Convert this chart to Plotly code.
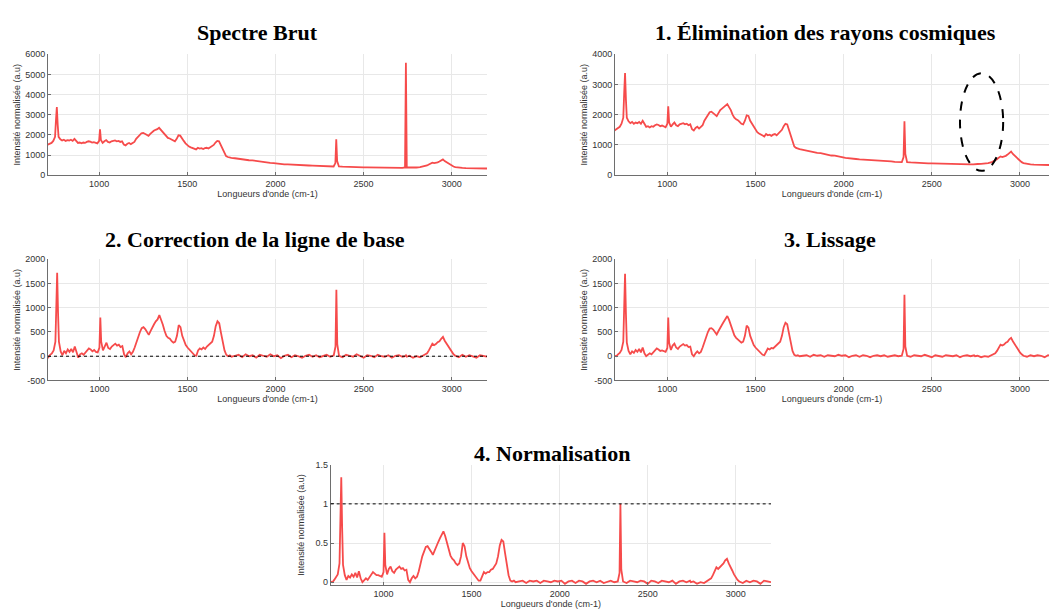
import plotly.graph_objects as go

# nombre d'onde (cm-1), grille commune aux cinq spectres
wavenumber = [
    700, 710, 720, 730, 740, 750, 755, 760, 765, 770, 780, 790, 800, 810, 820, 830, 840, 850,
    860, 870, 880, 890, 900, 910, 920, 930, 940, 950, 960, 970, 980, 990, 1000, 1005, 1010, 1020,
    1030, 1040, 1050, 1060, 1070, 1080, 1090, 1100, 1110, 1120,
    1130, 1140, 1150, 1160, 1170, 1180, 1190, 1200, 1210, 1220,
    1230, 1240, 1250, 1260, 1270, 1280, 1290, 1300, 1310, 1320,
    1330, 1340, 1350, 1360, 1370, 1380, 1390, 1400, 1410, 1420,
    1430, 1440, 1450, 1460, 1470, 1480, 1490, 1500, 1510, 1520,
    1530, 1540, 1550, 1560, 1570, 1580, 1590, 1600, 1610, 1620,
    1630, 1640, 1650, 1660, 1670, 1680, 1690, 1700, 1710, 1720,
    1730, 1740, 1750,
    1770, 1790, 1810, 1830, 1850, 1870, 1890, 1910, 1930, 1950, 1970, 1990, 2010, 2030, 2050,
    2070, 2090, 2110, 2130, 2150, 2170, 2190, 2210, 2230, 2250, 2270, 2290, 2310, 2330,
    2340, 2345, 2350, 2360,
    2380, 2400, 2420, 2440, 2460, 2480, 2500, 2520, 2540, 2560, 2580, 2600, 2620, 2640, 2660,
    2680, 2700, 2720,
    2735, 2740, 2745,
    2760, 2780, 2800, 2820, 2840, 2860,
    2870, 2880, 2890, 2900, 2910, 2920, 2930, 2940, 2950, 2960, 2970, 2980, 2990, 3000, 3010, 3020,
    3040, 3060, 3080, 3100, 3120, 3140, 3160, 3180, 3200,
]

# Spectre brut
raw = [
    1480, 1520, 1560, 1600, 1700, 1900, 2700, 3380, 2500, 1900, 1780, 1720, 1760, 1700, 1740, 1720, 1760, 1700,
    1800, 1680, 1600, 1620, 1580, 1620, 1600, 1650, 1680, 1660, 1620, 1640, 1600, 1580, 1700, 2280, 1750, 1600,
    1680, 1740, 1650, 1620, 1680, 1700, 1720, 1680, 1700, 1650,
    1680, 1520, 1480, 1560, 1600, 1540, 1580, 1650, 1800, 1900,
    2000, 2080, 2100, 2060, 2000, 1950, 2050, 2150, 2200, 2250,
    2280, 2350, 2250, 2150, 2000, 1900, 1850, 1820, 1760, 1700,
    1680, 1800, 1980, 1960, 1800, 1700, 1580, 1480, 1420, 1380,
    1350, 1300, 1280, 1360, 1320, 1340, 1300, 1340, 1360, 1320,
    1380, 1420, 1500, 1620, 1700, 1680, 1500, 1300, 1100, 950,
    900, 870, 860,
    840, 810, 790, 770, 740, 730, 700, 690, 650, 645, 610, 600, 570, 565, 540,
    535, 520, 515, 500, 495, 480, 480, 470, 465, 455, 455, 440, 435, 430,
    600, 1780, 700, 430,
    420, 410, 405, 400, 395, 390, 390, 385, 380, 380, 375, 375, 370, 370, 365,
    370, 365, 360,
    380, 5580, 380,
    370, 375, 380, 400, 430, 480,
    530, 580, 620, 600, 610, 640, 680, 740, 780, 700, 640, 580, 520, 470, 430, 400,
    370, 360, 350, 345, 340, 335, 340, 330, 330,
]

# 1. Élimination des rayons cosmiques
cosmic = [
    1480, 1520, 1560, 1600, 1700, 1900, 2700, 3380, 2500, 1900, 1780, 1720, 1760, 1700, 1740, 1720, 1760, 1700,
    1800, 1680, 1600, 1620, 1580, 1620, 1600, 1650, 1680, 1660, 1620, 1640, 1600, 1580, 1700, 2280, 1750, 1600,
    1680, 1740, 1650, 1620, 1680, 1700, 1720, 1680, 1700, 1650,
    1680, 1520, 1480, 1560, 1600, 1540, 1580, 1650, 1800, 1900,
    2000, 2080, 2100, 2060, 2000, 1950, 2050, 2150, 2200, 2250,
    2280, 2350, 2250, 2150, 2000, 1900, 1850, 1820, 1760, 1700,
    1680, 1800, 1980, 1960, 1800, 1700, 1580, 1480, 1420, 1380,
    1350, 1300, 1280, 1360, 1320, 1340, 1300, 1340, 1360, 1320,
    1380, 1420, 1500, 1620, 1700, 1680, 1500, 1300, 1100, 950,
    900, 870, 860,
    840, 810, 790, 770, 740, 730, 700, 690, 650, 645, 610, 600, 570, 565, 540,
    535, 520, 515, 500, 495, 480, 480, 470, 465, 455, 455, 440, 435, 430,
    600, 1780, 700, 430,
    420, 410, 405, 400, 395, 390, 390, 385, 380, 380, 375, 375, 370, 370, 365,
    370, 365, 360,
    360, 365, 370,
    370, 375, 380, 400, 430, 480,
    530, 580, 620, 600, 610, 640, 680, 740, 780, 700, 640, 580, 520, 470, 430, 400,
    370, 360, 350, 345, 340, 335, 340, 330, 330,
]

# 2. Correction de la ligne de base
baseline = [
    20, -20, 30, 60, 120, 300, 1000, 1720, 900, 300, 100, 20, 110, 60, 140, 90, 150, 80,
    200, 60, -30, 40, 60, 30, 80, 120, 160, 140, 100, 130, 90, 80, 180, 800, 300, 120,
    220, 280, 170, 150, 200, 240, 260, 220, 240, 190,
    210, 40, -20, 60, 100, 40, 90, 180, 300, 420,
    500, 580, 600, 560, 500, 440, 520, 600, 660, 720,
    760, 850, 760, 650, 520, 420, 380, 360, 310, 280,
    300, 420, 640, 600, 420, 300, 230, 180, 140, 110,
    70, 20, 10, 120, 160, 140, 180, 150, 200, 230,
    260, 300, 420, 620, 720, 680, 480, 280, 120, 30,
    0, 20, -10,
    10, 30, -20, 40, 0, 20, -30, 30, 10, -10, 40, 0, 20, -40, 10,
    30, -20, 20, 0, -30, 10, 30, -10, 20, -20, 10, 30, -10, 20,
    200, 1370, 250, 10,
    -20, 30, 10, -10, 40, 0, -30, 20, 10, -20, 30, 0, -10, 20, -30,
    10, 20, -10,
    0, 20, -10,
    10, -30, 0, -20, 20, 60,
    120, 200, 260, 230, 250, 290, 310, 360, 400, 320, 260, 200, 140, 90, 40, 10,
    -20, 30, -10, 20, 0, -30, 20, 10, -10,
]

# 3. Lissage
smooth = [
    10, 0, 40, 70, 130, 300, 1000, 1700, 880, 280, 110, 40, 100, 70, 130, 90, 150, 80,
    180, 60, 0, 40, 60, 40, 80, 110, 160, 140, 110, 120, 100, 90, 170, 800, 280, 130,
    220, 260, 180, 150, 200, 230, 250, 220, 230, 190,
    200, 40, 0, 60, 100, 60, 90, 180, 300, 420,
    500, 570, 580, 550, 490, 450, 520, 600, 650, 710,
    760, 830, 750, 640, 520, 430, 380, 350, 300, 280,
    300, 420, 630, 590, 420, 300, 230, 180, 140, 100,
    60, 30, 20, 110, 160, 140, 170, 160, 200, 220,
    260, 300, 420, 600, 690, 660, 470, 270, 110, 30,
    10, 20, 0,
    10, 20, -10, 30, 10, 20, -10, 20, 10, 0, 30, 10, 20, -20, 10,
    20, -10, 20, 10, -20, 10, 20, 0, 20, -10, 10, 20, 0, 10,
    150, 1270, 200, 10,
    -10, 20, 10, 0, 30, 10, -20, 20, 10, -10, 20, 10, 0, 20, -20,
    10, 20, 0,
    10, 20, 0,
    10, -20, 0, -10, 20, 60,
    110, 190, 240, 220, 240, 280, 300, 350, 380, 310, 250, 190, 130, 80, 40, 10,
    -10, 20, 0, 20, 10, -20, 20, 10, 0,
]

# 4. Normalisation
normalized = [
    0.01, 0.00, 0.03, 0.06, 0.10, 0.24, 0.79, 1.34, 0.69, 0.22, 0.09, 0.03, 0.08, 0.06, 0.10, 0.07, 0.12, 0.06,
    0.14, 0.05, 0.00, 0.03, 0.05, 0.03, 0.06, 0.09, 0.13, 0.11, 0.09, 0.09, 0.08, 0.07, 0.13, 0.63, 0.22, 0.10,
    0.17, 0.20, 0.14, 0.12, 0.16, 0.18, 0.20, 0.17, 0.18, 0.15,
    0.16, 0.03, 0.00, 0.05, 0.08, 0.05, 0.07, 0.14, 0.24, 0.33,
    0.39, 0.45, 0.46, 0.43, 0.39, 0.35, 0.41, 0.47, 0.51, 0.56,
    0.60, 0.65, 0.59, 0.50, 0.41, 0.34, 0.30, 0.28, 0.24, 0.22,
    0.24, 0.33, 0.50, 0.46, 0.33, 0.24, 0.18, 0.14, 0.11, 0.08,
    0.05, 0.02, 0.02, 0.09, 0.13, 0.11, 0.13, 0.13, 0.16, 0.17,
    0.20, 0.24, 0.33, 0.47, 0.54, 0.52, 0.37, 0.21, 0.09, 0.02,
    0.01, 0.02, 0.00,
    0.01, 0.02, -0.01, 0.02, 0.01, 0.02, -0.01, 0.02, 0.01, 0.00, 0.02, 0.01, 0.02, -0.02, 0.01,
    0.02, -0.01, 0.02, 0.01, -0.02, 0.01, 0.02, 0.00, 0.02, -0.01, 0.01, 0.02, 0.00, 0.01,
    0.12, 1.00, 0.16, 0.01,
    -0.01, 0.02, 0.01, 0.00, 0.02, 0.01, -0.02, 0.02, 0.01, -0.01, 0.02, 0.01, 0.00, 0.02, -0.02,
    0.01, 0.02, 0.00,
    0.01, 0.02, 0.00,
    0.01, -0.02, 0.00, -0.01, 0.02, 0.05,
    0.09, 0.15, 0.19, 0.17, 0.19, 0.22, 0.24, 0.28, 0.30, 0.24, 0.20, 0.15, 0.10, 0.06, 0.03, 0.01,
    -0.01, 0.02, 0.00, 0.02, 0.01, -0.02, 0.02, 0.01, 0.00,
]

for name, s in [("raw", raw), ("cosmic", cosmic), ("baseline", baseline),
                ("smooth", smooth), ("normalized", normalized)]:
    assert len(s) == len(wavenumber), (name, len(s), len(wavenumber))

W, H = 1049, 613
RED = "#f64b4b"
TICKFONT = dict(family="Liberation Sans, Arial", size=9, color="#333333")

def px_x(a, b):
    return [a / W, b / W]

def px_y(top, bottom):
    return [1 - bottom / H, 1 - top / H]

def xstyle(dom, rng, anchor):
    return dict(domain=dom, range=rng, anchor=anchor, tickvals=[1000, 1500, 2000, 2500, 3000],
                showgrid=True, gridcolor="#e8e8e8", zeroline=False, showline=True,
                linecolor="#6e6e6e", linewidth=1, ticks="inside", ticklen=3, tickcolor="#6e6e6e",
                tickfont=TICKFONT,
                title=dict(text="Longueurs d'onde (cm-1)", font=TICKFONT, standoff=2))

def ystyle(dom, rng, anchor, vals, texts, standoff=3):
    return dict(domain=dom, range=rng, anchor=anchor, tickvals=vals, ticktext=texts,
                showgrid=True, gridcolor="#e8e8e8", zeroline=False, showline=True,
                linecolor="#6e6e6e", linewidth=1, ticks="inside", ticklen=3, tickcolor="#6e6e6e",
                tickfont=TICKFONT,
                title=dict(text="Intensité normalisée (a.u)", font=TICKFONT, standoff=standoff))

fig = go.Figure()
series = [raw, cosmic, baseline, smooth, normalized]
for i, s in enumerate(series, start=1):
    fig.add_trace(go.Scatter(x=wavenumber, y=s, mode="lines", xaxis=f"x{i}", yaxis=f"y{i}",
                             line=dict(color=RED, width=1.8), showlegend=False))

left = px_x(48, 487)
right = px_x(615, 1049)
row1 = px_y(50, 173)
row2 = px_y(258.5, 381.7)
row3 = px_y(467.3, 590)

fig.update_layout(
    width=W, height=H,
    margin=dict(l=0, r=0, t=0, b=0),
    paper_bgcolor="white", plot_bgcolor="white",
    xaxis=xstyle(left, [710, 3200], "y"),
    yaxis=ystyle(row1, [0, 6000], "x", [0, 1000, 2000, 3000, 4000, 5000, 6000],
                 ["0", "1000", "2000", "3000", "4000", "5000", "6000"]),
    xaxis2=xstyle(right, [703, 3165], "y2"),
    yaxis2=ystyle(row1, [0, 4000], "x2", [0, 1000, 2000, 3000, 4000],
                  ["0", "1000", "2000", "3000", "4000"]),
    xaxis3=xstyle(left, [708, 3200], "y3"),
    yaxis3=ystyle(row2, [-500, 2000], "x3", [-500, 0, 500, 1000, 1500, 2000],
                  ["-500", "0", "500", "1000", "1500", "2000"]),
    xaxis4=xstyle(right, [703, 3165], "y4"),
    yaxis4=ystyle(row2, [-500, 2000], "x4", [-500, 0, 500, 1000, 1500, 2000],
                  ["-500", "0", "500", "1000", "1500", "2000"]),
    xaxis5=xstyle(px_x(330.7, 771), [700, 3200], "y5"),
    yaxis5=ystyle(row3, [-0.04, 1.5], "x5", [0, 0.5, 1, 1.5], ["0", "0.5", "1", "1.5"],
                  standoff=9),
)

# titres des sous-graphiques
titles = [
    ("Spectre Brut", 257, 28),
    ("1. Élimination des rayons cosmiques", 825, 28),
    ("2. Correction de la ligne de base", 255, 238),
    ("3. Lissage", 830, 238),
    ("4. Normalisation", 552, 456),
]
for txt, cx, cy in titles:
    fig.add_annotation(text=f"<b>{txt}</b>", x=cx / W, y=1 - cy / H, xref="paper", yref="paper",
                       showarrow=False, xanchor="center", yanchor="middle",
                       font=dict(family="Liberation Serif, Times New Roman", size=22, color="black"))

# lignes de référence en pointillés
fig.add_shape(type="line", xref="x3 domain", yref="y3", x0=0, x1=1, y0=0, y1=0,
              line=dict(color="black", width=1, dash="dot"))
fig.add_shape(type="line", xref="x5 domain", yref="y5", x0=0, x1=1, y0=1, y1=1,
              line=dict(color="black", width=1, dash="dot"))

# ellipse autour du rayon cosmique supprimé
fig.add_shape(type="circle", xref="x2", yref="y2", x0=2660, x1=2905, y0=143, y1=3371,
              line=dict(color="black", width=2, dash="dash"))

# page sans marge pour que la figure occupe toute la fenêtre
fig.write_html("out.html", config={"displayModeBar": False},
               post_script="document.body.style.margin='0px';"
                           "document.body.style.overflow='hidden';")
